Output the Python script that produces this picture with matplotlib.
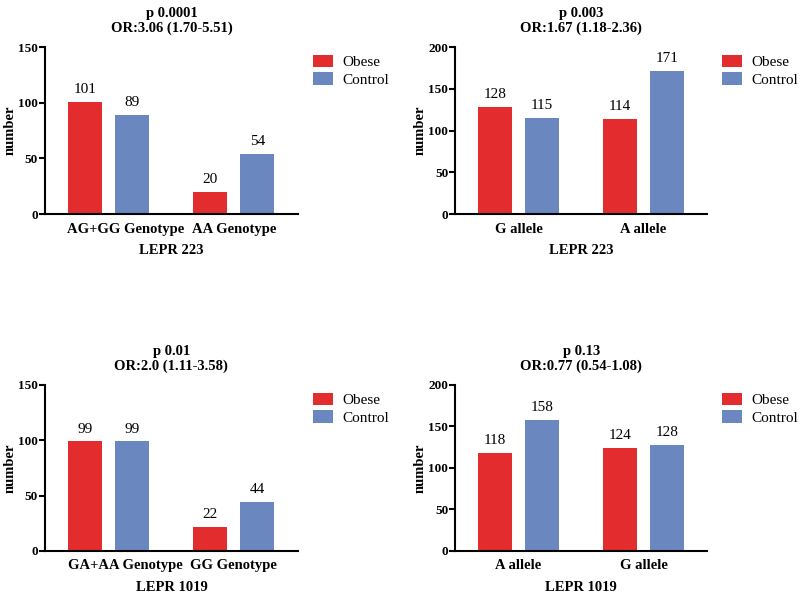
import numpy as np
import matplotlib.pyplot as plt
import matplotlib.transforms as mtransforms

plt.rcParams['font.family'] = ['Liberation Serif', 'DejaVu Serif']

# data for the four panels
cats_223_geno = ['AG+GG Genotype', 'AA Genotype']
obese_223_geno = [101, 20]
control_223_geno = [89, 54]

cats_223_allele = ['G allele', 'A allele']
obese_223_allele = [128, 114]
control_223_allele = [115, 171]

cats_1019_geno = ['GA+AA Genotype', 'GG Genotype']
obese_1019_geno = [99, 22]
control_1019_geno = [99, 44]

cats_1019_allele = ['A allele', 'G allele']
obese_1019_allele = [118, 124]
control_1019_allele = [158, 128]

titles = ['p 0.0001\nOR:3.06 (1.70-5.51)', 'p 0.003\nOR:1.67 (1.18-2.36)',
          'p 0.01\nOR:2.0 (1.11-3.58)', 'p 0.13\nOR:0.77 (0.54-1.08)']
xlabels = ['LEPR 223', 'LEPR 223', 'LEPR 1019', 'LEPR 1019']
ymaxes = [150, 200, 150, 200]
ysteps = [50, 50, 50, 50]

red = '#e32c2d'
blue = '#6a88bf'

fig = plt.figure(figsize=(8, 5.95), dpi=100)

boxes = [[0.05625, 0.640, 0.316, 0.281],
         [0.569, 0.640, 0.315, 0.281],
         [0.05625, 0.074, 0.316, 0.279],
         [0.569, 0.074, 0.315, 0.279]]

panels = [(cats_223_geno, obese_223_geno, control_223_geno),
          (cats_223_allele, obese_223_allele, control_223_allele),
          (cats_1019_geno, obese_1019_geno, control_1019_geno),
          (cats_1019_allele, obese_1019_allele, control_1019_allele)]

for i, (cats, ob, co) in enumerate(panels):
    ax = fig.add_axes(boxes[i])
    x = np.arange(len(cats))
    w = 0.27
    off = 0.187
    b1 = ax.bar(x - off, ob, width=w, color=red, label='Obese')
    b2 = ax.bar(x + off, co, width=w, color=blue, label='Control')
    for bars in (b1, b2):
        for b in bars:
            ax.text(b.get_x() + b.get_width() / 2, b.get_height() + ymaxes[i] * 0.035,
                    '%d' % b.get_height(), ha='center', va='bottom', fontsize=11)
    ax.set_xlim(-0.506, 1.51)
    ax.set_ylim(0, ymaxes[i])
    ax.set_yticks(np.arange(0, ymaxes[i] + 1, ysteps[i]))
    ax.set_xticks(x)
    ax.set_xticklabels(cats, fontsize=10.5, fontweight='bold')
    ax.tick_params(axis='x', length=0, pad=6)
    ax.tick_params(axis='y', length=4, width=1.5, pad=1, labelsize=9.5)
    for lab in ax.get_yticklabels():
        lab.set_fontweight('bold')
    # genotype panels: first label sits a little to the right
    if 'Genotype' in cats[0]:
        lab0 = ax.get_xticklabels()[0]
        lab0.set_transform(lab0.get_transform() +
                           mtransforms.ScaledTranslation(0.17, 0, fig.dpi_scale_trans))
    ax.spines['top'].set_visible(False)
    ax.spines['right'].set_visible(False)
    ax.spines['left'].set_linewidth(1.5)
    ax.spines['bottom'].set_linewidth(1.5)
    ax.set_ylabel('number', fontsize=10.5, fontweight='bold', labelpad=1)
    ax.set_xlabel(xlabels[i], fontsize=10.5, fontweight='bold', labelpad=6)
    ax.set_title(titles[i], fontsize=10.5, fontweight='bold', pad=11, linespacing=1.1)
    ax.legend(loc='upper left', bbox_to_anchor=(1.0, 1.045), frameon=False,
              fontsize=11, handlelength=1.3, handleheight=0.9, labelspacing=0.2,
              handletextpad=0.6, borderaxespad=0.6)

plt.savefig('out.png')
